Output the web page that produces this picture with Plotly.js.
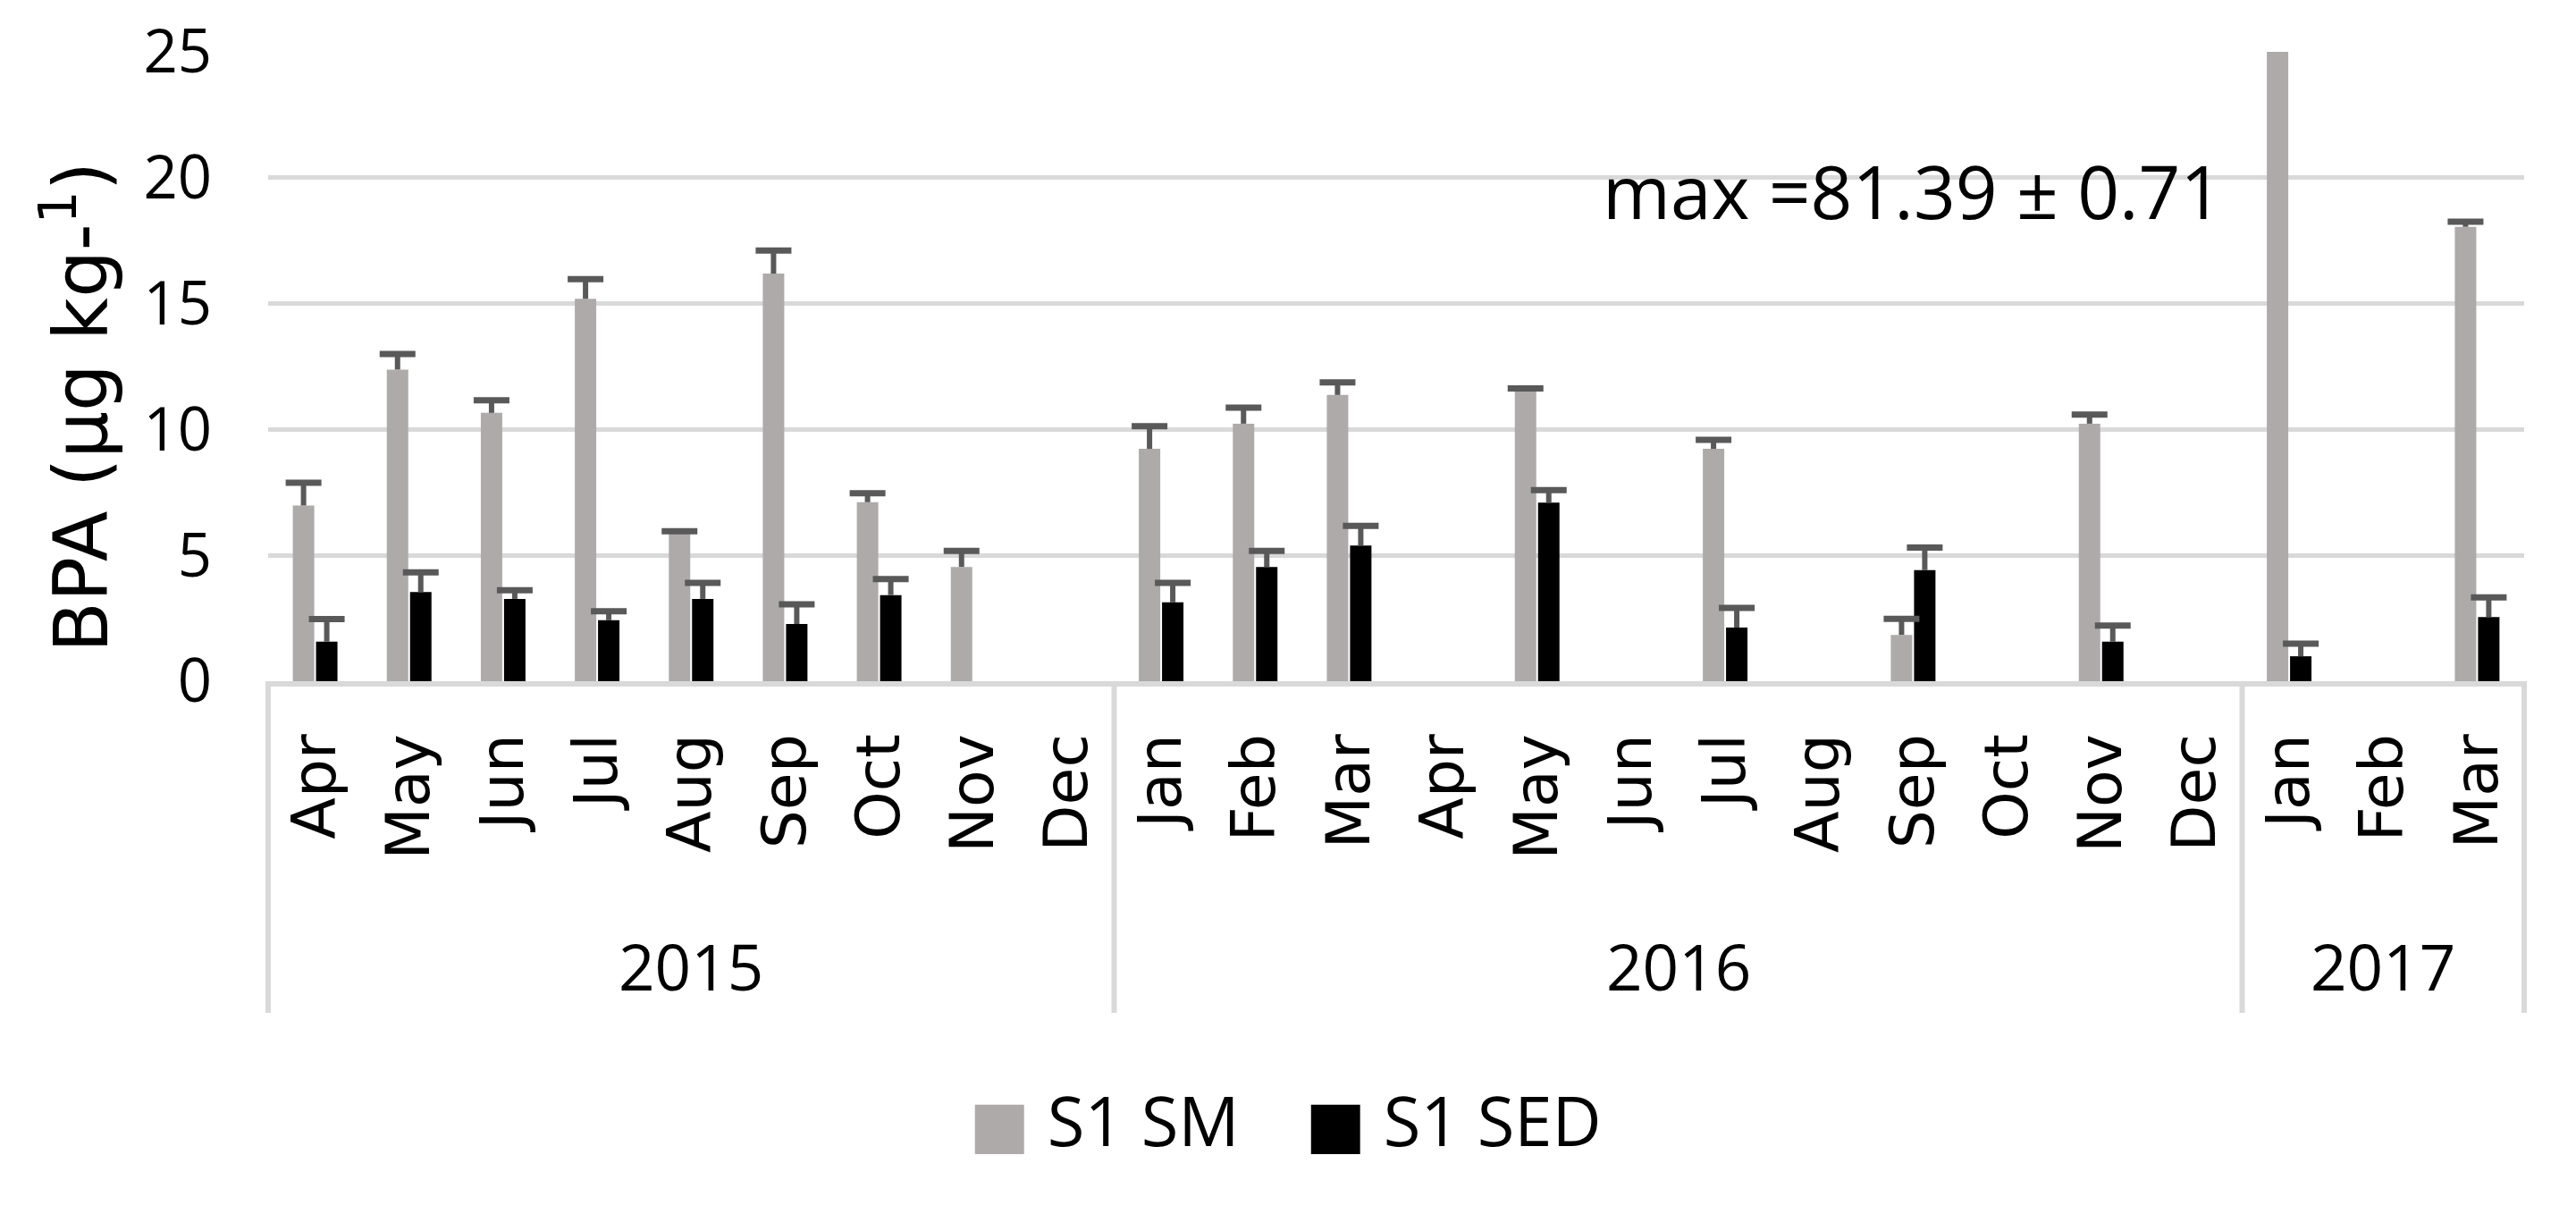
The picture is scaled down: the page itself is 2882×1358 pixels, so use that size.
<!DOCTYPE html>
<html>
<head>
<meta charset="utf-8">
<script src="https://cdn.plot.ly/plotly-3.0.1.min.js"></script>
<style>html,body{margin:0;padding:0;background:#fff;}</style>
</head>
<body>
<div id="chart" style="width:2882px;height:1358px;"></div>
<script>
// ---- data ----
var years = ['2015','2015','2015','2015','2015','2015','2015','2015','2015',
             '2016','2016','2016','2016','2016','2016','2016','2016','2016','2016','2016','2016',
             '2017','2017','2017'];
var months = ['Apr','May','Jun','Jul','Aug','Sep','Oct','Nov','Dec',
              'Jan','Feb','Mar','Apr','May','Jun','Jul','Aug','Sep','Oct','Nov','Dec',
              'Jan','Feb','Mar'];
var smName = 'S1 SM';
var sedName = 'S1 SED';
var smColor = '#AEAAAA';
var sedColor = '#000000';
var smVals = [6.98, 12.38, 10.66, 15.19, 5.86, 16.19, 7.11, 4.54, null,
              9.23, 10.23, 11.37, null, 11.53, null, 9.23, null, 1.84, null, 10.23, null,
              81.39, null, 18.05];
var smErr  = [0.9, 0.62, 0.5, 0.78, 0.1, 0.92, 0.36, 0.64, null,
              0.9, 0.64, 0.5, null, 0.1, null, 0.36, null, 0.64, null, 0.36, null,
              0.71, null, 0.2];
var sedVals = [1.57, 3.54, 3.27, 2.42, 3.27, 2.27, 3.42, null, null,
               3.13, 4.54, 5.39, null, 7.09, null, 2.13, null, 4.41, null, 1.57, null,
               0.99, null, 2.55];
var sedErr  = [0.9, 0.78, 0.34, 0.36, 0.64, 0.78, 0.64, null, null,
               0.78, 0.64, 0.78, null, 0.5, null, 0.78, null, 0.9, null, 0.64, null,
               0.5, null, 0.78];
var annotText = 'max =81.39 \u00b1 0.71';
var yTitle = 'BPA (\u00b5g kg-<sup>1</sup>)';

// ---- derived ----
var idx = months.map(function (m, i) { return i; });
function tops(v, e) { return v.map(function (d, i) { return d === null ? null : d + e[i]; }); }
function zeros(v) { return v.map(function (d) { return d === null ? null : 0; }); }

var errStem = function (arr, vals) {
  return {type: 'data', symmetric: false, array: arr, arrayminus: zeros(vals),
          width: 0, thickness: 6, color: '#595959', visible: true};
};
var errCap = function (vals) {
  return {type: 'data', symmetric: true, array: zeros(vals),
          width: 20, thickness: 7, color: '#595959', visible: true};
};

var traces = [
  {type: 'bar', name: smName, x: idx, y: smVals, offsetgroup: 'sm',
   marker: {color: smColor}, error_y: errStem(smErr, smVals)},
  {type: 'bar', name: sedName, x: idx, y: sedVals, offsetgroup: 'sed',
   marker: {color: sedColor}, error_y: errStem(sedErr, sedVals)},
  {type: 'bar', name: smName + ' cap', x: idx, y: tops(smVals, smErr), offsetgroup: 'sm',
   marker: {color: 'rgba(0,0,0,0)'}, hoverinfo: 'skip', error_y: errCap(smVals)},
  {type: 'bar', name: sedName + ' cap', x: idx, y: tops(sedVals, sedErr), offsetgroup: 'sed',
   marker: {color: 'rgba(0,0,0,0)'}, hoverinfo: 'skip', error_y: errCap(sedVals)}
];

// year groups (labels + divider positions) derived from the years array
var groups = [];
years.forEach(function (y, i) {
  if (!groups.length || groups[groups.length - 1].year !== y) groups.push({year: y, first: i, last: i});
  else groups[groups.length - 1].last = i;
});
var nCat = months.length;
var xr = [-0.5, nCat - 0.5];
function toPaper(v) { return (v - xr[0]) / (xr[1] - xr[0]); }

var shapes = [];
var bounds = [groups[0].first - 0.5].concat(groups.map(function (g) { return g.last + 0.5; }));
bounds.forEach(function (b) {
  shapes.push({type: 'line', xref: 'paper', yref: 'paper', x0: toPaper(b), x1: toPaper(b),
               y0: 0, y1: -0.527, line: {color: '#d9d9d9', width: 6}, layer: 'above'});
});

var annotations = [
  {text: yTitle, xref: 'paper', yref: 'paper', x: -0.0852, y: 0.436, xanchor: 'center', yanchor: 'middle',
   textangle: -90, showarrow: false, font: {family: 'DejaVu Sans', size: 83, color: '#000'}},
  {text: annotText, xref: 'paper', yref: 'paper', x: 0.729, y: 0.78, xanchor: 'center', yanchor: 'middle',
   showarrow: false, font: {family: 'Open Sans', size: 82, color: '#000'}}
];
groups.forEach(function (g) {
  annotations.push({text: g.year, xref: 'paper', yref: 'paper', x: toPaper((g.first + g.last) / 2),
                    y: -0.452, xanchor: 'center', yanchor: 'middle', showarrow: false,
                    font: {family: 'Open Sans', size: 71, color: '#000'}});
});
// legend keys
var legendItems = [{name: smName, color: smColor, x: 0.3098}, {name: sedName, color: sedColor, x: 0.4588}];
legendItems.forEach(function (it) {
  annotations.push({text: '<span style="color:' + it.color + ';font-family:DejaVu Sans;font-size:72px">\u25A0</span> ' + it.name,
                    xref: 'paper', yref: 'paper', x: it.x, y: -0.697, xanchor: 'left', yanchor: 'middle',
                    showarrow: false, font: {family: 'Open Sans', size: 76, color: '#000'}});
});

var layout = {
  width: 2882, height: 1358,
  margin: {l: 300, r: 58, t: 58, b: 596, pad: 0},
  paper_bgcolor: '#ffffff', plot_bgcolor: '#ffffff',
  barmode: 'group', bargap: 0.506, bargroupgap: 0.077,
  showlegend: false,
  xaxis: {
    type: 'linear', range: xr, tickmode: 'array', tickvals: idx, ticktext: months, tickangle: -90,
    tickfont: {family: 'DejaVu Sans', size: 68, color: '#000'},
    showline: true, linecolor: '#d9d9d9', linewidth: 6,
    ticks: '', showgrid: false, zeroline: false, ticklabelstandoff: 26
  },
  yaxis: {
    range: [0, 25], tick0: 0, dtick: 5, showgrid: true, gridcolor: '#d9d9d9', gridwidth: 5,
    zeroline: false, showline: false, ticks: '',
    tickfont: {family: 'Open Sans', size: 67, color: '#000'}, ticklabelstandoff: 62
  },
  shapes: shapes,
  annotations: annotations
};

Plotly.newPlot('chart', traces, layout, {displayModeBar: false, staticPlot: true});
</script>
</body>
</html>
